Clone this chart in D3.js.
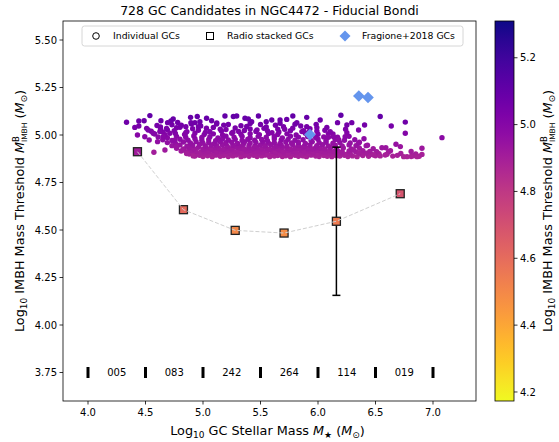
<!DOCTYPE html>
<html><head><meta charset="utf-8">
<script src="https://cdn.jsdelivr.net/npm/d3@7"></script>
<style>body{margin:0;background:#fff} text{font-family:"DejaVu Sans",sans-serif;fill:#000}</style>
</head><body><svg id="c" width="559" height="442"></svg>
<script>
const chartTitle = "728 GC Candidates in NGC4472 - Fiducial Bondi";
const xTicks = [4.0,4.5,5.0,5.5,6.0,6.5,7.0];
const yTicks = [3.75,4.00,4.25,4.50,4.75,5.00,5.25,5.50];
const cbTicks = [4.2,4.4,4.6,4.8,5.0,5.2];
const binEdges = [4.0,4.5,5.0,5.5,6.0,6.5,7.0];
const binCounts = ["005","083","242","264","114","019"];
const binLevel = 3.75;
const stackMass = [4.43,4.83,5.28,5.705,6.16,6.715];
const stackThresh = [4.912,4.607,4.498,4.484,4.546,4.691];
const stackErr = [0,0,0,0,0.39,0];
const fragMass = [5.93,6.355,6.435];
const fragThresh = [5.002,5.205,5.197];
const legendLabels = ["Individual GCs","Radio stacked GCs","Fragione+2018 GCs"];
const gcPoints = [
[4.93,4.889],[4.97,4.893],[5.00,4.887],[5.04,4.891],[5.08,4.886],[5.11,4.894],[5.15,4.888],[5.18,4.892],[5.22,4.887],[5.26,4.890],[5.29,4.895],[5.33,4.886],[5.36,4.891],[5.40,4.888],[5.44,4.893],[5.47,4.887],[5.51,4.890],[5.54,4.894],[5.58,4.886],[5.62,4.889],[5.65,4.892],[5.69,4.887],[5.72,4.891],[5.76,4.886],[5.80,4.893],[5.83,4.888],[5.87,4.890],[5.90,4.886],[5.94,4.894],[5.98,4.889],[6.01,4.887],[6.05,4.892],[6.08,4.888],[6.12,4.886],[6.16,4.891],[6.19,4.889],[6.23,4.893],[6.26,4.887],[6.30,4.890],[6.34,4.886],[6.39,4.892],[6.44,4.888],[6.50,4.891],[6.65,4.889],[6.69,4.893],[6.81,4.887],[6.83,4.891],[6.88,4.888],
[4.88,4.900],[4.91,4.904],[4.95,4.898],[4.99,4.902],[5.02,4.906],[5.06,4.899],[5.10,4.903],[5.13,4.897],[5.17,4.905],[5.20,4.900],[5.24,4.902],[5.28,4.898],[5.31,4.906],[5.35,4.901],[5.38,4.899],[5.42,4.904],[5.46,4.897],[5.49,4.902],[5.53,4.905],[5.56,4.899],[5.60,4.901],[5.64,4.906],[5.67,4.898],[5.71,4.903],[5.74,4.900],[5.78,4.904],[5.82,4.897],[5.85,4.902],[5.89,4.906],[5.92,4.899],[5.96,4.903],[6.00,4.898],[6.03,4.905],[6.07,4.900],[6.10,4.903],[6.14,4.897],[6.18,4.901],[6.21,4.905],[6.25,4.899],[6.28,4.903],[6.37,4.900],[6.42,4.904],[6.47,4.898],[6.53,4.902],[6.60,4.899],[6.72,4.903],[6.85,4.900],
[4.81,4.916],[4.86,4.912],[4.90,4.919],[4.94,4.914],[4.98,4.910],[5.01,4.917],[5.05,4.913],[5.09,4.920],[5.12,4.911],[5.16,4.916],[5.20,4.914],[5.23,4.919],[5.27,4.912],[5.31,4.917],[5.34,4.910],[5.38,4.915],[5.41,4.920],[5.45,4.913],[5.49,4.916],[5.52,4.911],[5.56,4.918],[5.60,4.914],[5.63,4.910],[5.67,4.917],[5.70,4.912],[5.74,4.919],[5.78,4.915],[5.81,4.911],[5.85,4.918],[5.88,4.913],[5.92,4.916],[5.96,4.910],[5.99,4.919],[6.03,4.914],[6.06,4.911],[6.10,4.917],[6.14,4.913],[6.17,4.918],[6.21,4.912],[6.27,4.916],[6.33,4.911],[6.39,4.918],[6.45,4.914],[6.51,4.912],[6.63,4.917],[6.81,4.913],
[4.77,4.930],[4.83,4.926],[4.88,4.933],[4.92,4.928],[4.96,4.935],[5.00,4.925],[5.03,4.931],[5.07,4.927],[5.11,4.934],[5.14,4.929],[5.18,4.925],[5.22,4.932],[5.25,4.928],[5.29,4.935],[5.33,4.930],[5.36,4.926],[5.40,4.933],[5.44,4.929],[5.47,4.934],[5.51,4.927],[5.55,4.931],[5.58,4.925],[5.62,4.933],[5.65,4.928],[5.69,4.935],[5.73,4.930],[5.76,4.926],[5.80,4.932],[5.84,4.928],[5.87,4.934],[5.91,4.929],[5.95,4.926],[5.98,4.933],[6.02,4.930],[6.06,4.927],[6.11,4.934],[6.16,4.929],[6.22,4.932],[6.29,4.927],[6.36,4.931],[6.48,4.928],[6.59,4.933],
[4.73,4.944],[4.80,4.948],[4.86,4.941],[4.91,4.946],[4.97,4.950],[5.02,4.942],[5.07,4.947],[5.12,4.944],[5.17,4.949],[5.21,4.941],[5.26,4.946],[5.31,4.943],[5.35,4.950],[5.40,4.945],[5.45,4.941],[5.50,4.948],[5.54,4.944],[5.59,4.949],[5.64,4.942],[5.68,4.946],[5.73,4.943],[5.78,4.950],[5.83,4.945],[5.88,4.941],[5.93,4.947],[5.99,4.944],[6.04,4.949],[6.09,4.942],[6.15,4.946],[6.21,4.943],[6.27,4.948],[6.33,4.944],[6.43,4.946],
[4.69,4.960],[4.76,4.956],[4.83,4.963],[4.89,4.958],[4.94,4.965],[5.00,4.957],[5.05,4.961],[5.10,4.955],[5.15,4.964],[5.20,4.959],[5.25,4.962],[5.30,4.956],[5.36,4.963],[5.41,4.958],[5.46,4.961],[5.52,4.965],[5.57,4.957],[5.62,4.960],[5.67,4.956],[5.72,4.963],[5.77,4.958],[5.83,4.961],[5.89,4.955],[5.95,4.964],[6.01,4.959],[6.07,4.962],[6.13,4.957],[6.19,4.960],[6.28,4.958],[6.36,4.962],
[4.65,4.975],[4.73,4.971],[4.80,4.978],[4.87,4.973],[4.93,4.980],[4.99,4.972],[5.05,4.976],[5.11,4.970],[5.17,4.979],[5.22,4.974],[5.28,4.977],[5.34,4.971],[5.39,4.978],[5.45,4.973],[5.51,4.976],[5.56,4.970],[5.62,4.979],[5.68,4.974],[5.74,4.977],[5.80,4.972],[5.87,4.975],[5.94,4.971],[6.00,4.978],[6.07,4.973],[6.15,4.976],[6.23,4.972],[6.32,4.975],
[4.61,4.990],[4.69,4.986],[4.77,4.993],[4.85,4.988],[4.92,4.995],[4.99,4.987],[5.06,4.991],[5.13,4.985],[5.20,4.994],[5.27,4.989],[5.34,4.992],[5.41,4.986],[5.48,4.993],[5.55,4.988],[5.62,4.991],[5.69,4.985],[5.76,4.994],[5.83,4.989],[5.91,4.992],[5.98,4.987],[6.05,4.990],[6.17,4.988],[6.27,4.993],
[4.58,5.005],[4.67,5.001],[4.76,5.008],[4.84,5.003],[4.93,5.010],[5.01,5.002],[5.09,5.006],[5.17,5.000],[5.25,5.009],[5.33,5.004],[5.41,5.007],[5.49,5.001],[5.57,5.008],[5.65,5.003],[5.73,5.006],[5.81,5.000],[5.89,5.009],[6.00,5.004],[6.13,5.006],
[4.55,5.020],[4.65,5.016],[4.75,5.023],[4.86,5.018],[4.96,5.025],[5.06,5.017],[5.16,5.021],[5.26,5.015],[5.36,5.024],[5.46,5.019],[5.56,5.022],[5.66,5.016],[5.76,5.023],[5.86,5.018],[5.99,5.021],
[4.51,5.035],[4.63,5.031],[4.77,5.038],[4.91,5.033],[5.03,5.036],[5.15,5.030],[5.28,5.037],[5.41,5.032],[5.53,5.035],[5.65,5.031],[5.78,5.036],[5.93,5.033],
[4.60,5.050],[4.73,5.054],[4.98,5.048],[5.18,5.052],[5.33,5.049],[5.50,5.055],[5.63,5.051],[5.85,5.047],
[4.63,5.043],[4.69,5.027],[4.80,5.041],[4.85,5.012],[4.96,5.044],[5.02,5.013],[5.09,5.040],[5.20,5.029],[5.22,5.055],[5.31,5.019],[5.38,5.045],[5.47,5.027],[5.55,5.042],[5.60,5.012],[5.70,5.044],[5.71,5.030],[5.80,5.057],[5.92,5.015],[5.99,5.039],[6.06,5.025],[4.90,5.058],[5.12,5.063],[5.41,5.061],[5.67,5.062],[4.78,5.066],[5.55,5.070],[6.09,5.006],[6.18,4.975],[6.24,5.030],[6.40,4.980],
[4.335,5.067],[4.442,5.074],[4.488,5.075],[4.538,5.102],[4.407,5.040],[4.442,5.047],[4.430,5.000],[4.634,5.075],[4.692,5.065],[4.721,5.074],[4.741,5.084],[4.892,5.093],[4.950,5.097],[5.031,5.088],[5.075,5.075],[5.191,5.100],[5.264,5.097],[5.293,5.100],[5.365,5.088],[5.482,5.100],[5.598,5.079],[5.670,5.079],[5.781,5.100],[5.902,5.093],[6.019,5.079],[6.199,5.104],[6.170,5.065],[6.294,5.065],[6.405,5.053],[6.541,5.097],[6.637,5.047],[6.759,5.068],[6.759,5.009],[7.078,4.986],[5.984,5.056],[6.077,5.040],[6.251,5.053],[6.353,5.026],[5.816,5.065],[5.728,5.082],[5.423,5.070],[5.394,5.084],[5.118,5.058],[4.973,5.070],[4.930,5.065],[4.811,5.051],[4.851,5.044],[4.895,5.065],
[6.678,4.951],[6.716,4.939],[6.904,4.930],[6.904,4.898],[6.861,4.886],[6.774,4.886],[6.745,4.886],[6.556,4.933],[6.483,4.895],[6.419,4.944],[6.353,4.956],[6.358,4.907],[6.309,4.921],[6.614,4.912],[6.541,4.890],[6.585,4.895],[6.135,4.991],[6.106,5.018],[6.251,5.012],[6.236,4.991],[6.091,4.988],[5.902,5.044],[5.874,5.023],
[4.573,4.909],[4.669,4.921],[4.532,4.974],[4.605,4.965],[4.567,5.009],[4.523,5.026],[4.494,4.991],[4.625,5.018],[4.654,4.991],[4.683,5.035],[4.712,5.009],[4.756,4.974],[4.770,4.939],[4.828,4.921],[4.857,4.903],[4.915,4.890]
];

const svg = d3.select("#c");
const L = 63, R = 476, T = 21, B = 401;
const x = d3.scaleLinear().domain([3.7826, 7.3739]).range([L, R]);
const y = d3.scaleLinear().domain([3.6, 5.6]).range([B, T]);
const cbMin = 4.173, cbMax = 5.31;
const norm = d3.scaleLinear().domain([cbMin, cbMax]).range([1, 0]);
const col = v => d3.interpolatePlasma(norm(v));

// title
svg.append("text").attr("x", (L+R)/2).attr("y", 15).attr("text-anchor","middle")
  .attr("font-size", 12.5).text(chartTitle);

const g = svg.append("g");
svg.append("clipPath").attr("id","pc").append("rect").attr("x",L).attr("y",T).attr("width",R-L).attr("height",B-T);
const pg = g.append("g").attr("clip-path","url(#pc)");

// scatter
pg.selectAll("circle.gc").data(gcPoints).join("circle").attr("class","gc")
  .attr("cx", d => x(d[0])).attr("cy", d => y(d[1])).attr("r", 2.7)
  .attr("fill", d => col(d[1]));

// error bars
const stack = stackMass.map((m,i) => ({m, t: stackThresh[i], e: stackErr[i]}));
stack.filter(d => d.e > 0).forEach(d => {
  pg.append("line").attr("x1", x(d.m)).attr("x2", x(d.m)).attr("y1", y(d.t + d.e)).attr("y2", y(d.t - d.e))
    .attr("stroke","#000").attr("stroke-width",1.5);
  [d.t + d.e, d.t - d.e].forEach(v => pg.append("line").attr("x1", x(d.m)-4).attr("x2", x(d.m)+4)
    .attr("y1", y(v)).attr("y2", y(v)).attr("stroke","#000").attr("stroke-width",1.5));
});

// squares
pg.selectAll("rect.sq").data(stack).join("rect").attr("class","sq")
  .attr("x", d => x(d.m)-4).attr("y", d => y(d.t)-4).attr("width",8).attr("height",8)
  .attr("fill", d => col(d.t)).attr("stroke","#222").attr("stroke-width",1.3);

// dashed connector
pg.append("path").datum(stack)
  .attr("d", d3.line().x(d => x(d.m)).y(d => y(d.t)))
  .attr("fill","none").attr("stroke","#cfcfcf").attr("stroke-width",1).attr("stroke-dasharray","4,2");

// Fragione diamonds
pg.selectAll("path.fr").data(fragMass.map((m,i)=>[m, fragThresh[i]])).join("path").attr("class","fr")
  .attr("d", d => { const cx = x(d[0]), cy = y(d[1]), s = 5.8; return `M${cx},${cy-s}L${cx+s},${cy}L${cx},${cy+s}L${cx-s},${cy}Z`; })
  .attr("fill","#6495ED");

// bin markers and counts
pg.selectAll("rect.bin").data(binEdges).join("rect").attr("class","bin")
  .attr("x", d => x(d)-1.5).attr("y", y(binLevel)-5.5).attr("width",3).attr("height",11).attr("fill","#000");
pg.selectAll("text.cnt").data(binCounts).join("text").attr("class","cnt")
  .attr("x", (d,i) => x((binEdges[i]+binEdges[i+1])/2)).attr("y", y(binLevel)+3.6)
  .attr("text-anchor","middle").attr("font-size",10).text(d => d);

// frame
g.append("rect").attr("x",L).attr("y",T).attr("width",R-L).attr("height",B-T)
  .attr("fill","none").attr("stroke","#000").attr("stroke-width",0.8);

// x axis
xTicks.forEach(t => {
  g.append("line").attr("x1",x(t)).attr("x2",x(t)).attr("y1",B).attr("y2",B+3.5).attr("stroke","#000").attr("stroke-width",0.8);
  g.append("text").attr("x",x(t)).attr("y",B+15).attr("text-anchor","middle").attr("font-size",10).text(t.toFixed(1));
});
// y axis
yTicks.forEach(t => {
  g.append("line").attr("x1",L-3.5).attr("x2",L).attr("y1",y(t)).attr("y2",y(t)).attr("stroke","#000").attr("stroke-width",0.8);
  g.append("text").attr("x",L-6).attr("y",y(t)+3.6).attr("text-anchor","end").attr("font-size",10).text(t.toFixed(2));
});

// x label
const xl = svg.append("text").attr("x",(L+R)/2 - 2).attr("y",435).attr("text-anchor","middle").attr("font-size",12.8);
xl.append("tspan").text("Log");
xl.append("tspan").attr("dy",3).attr("font-size",9).text("10");
xl.append("tspan").attr("dy",-3).text(" GC Stellar Mass ");
xl.append("tspan").attr("font-style","italic").text("M");
xl.append("tspan").attr("dy",3).attr("font-size",9).text("★");
xl.append("tspan").attr("dy",-3).text(" (");
xl.append("tspan").attr("font-style","italic").text("M");
xl.append("tspan").attr("dy",3).attr("font-size",9).text("⊙");
xl.append("tspan").attr("dy",-3).text(")");

function yLabel(tx, ty){
  const t = svg.append("text").attr("transform",`translate(${tx},${ty}) rotate(-90)`).attr("text-anchor","middle").attr("font-size",12.8);
  t.append("tspan").text("Log");
  t.append("tspan").attr("dy",3).attr("font-size",9).text("10");
  t.append("tspan").attr("dy",-3).text(" IMBH Mass Threshold ");
  t.append("tspan").attr("font-style","italic").text("M");
  t.append("tspan").attr("dy",-5).attr("font-size",8.5).text("B");
  t.append("tspan").attr("dx",-6).attr("dy",8).attr("font-size",7.5).text("IMBH");
  t.append("tspan").attr("dy",-3).text(" (");
  t.append("tspan").attr("font-style","italic").text("M");
  t.append("tspan").attr("dy",3).attr("font-size",9).text("⊙");
  t.append("tspan").attr("dy",-3).text(")");
}
yLabel(24, (T+B)/2);

// colorbar
const cbX = 495, cbW = 19;
const cy = d3.scaleLinear().domain([cbMin, cbMax]).range([B, T]);
const grad = svg.append("defs").append("linearGradient").attr("id","cbg").attr("x1",0).attr("y1",1).attr("x2",0).attr("y2",0);
d3.range(0, 1.0001, 0.05).forEach(s => grad.append("stop").attr("offset", s).attr("stop-color", col(cbMin + s*(cbMax-cbMin))));
svg.append("rect").attr("x",cbX).attr("y",T).attr("width",cbW).attr("height",B-T).attr("fill","url(#cbg)")
  .attr("stroke","#000").attr("stroke-width",0.8);
cbTicks.forEach(t => {
  svg.append("line").attr("x1",cbX+cbW).attr("x2",cbX+cbW+3.5).attr("y1",cy(t)).attr("y2",cy(t)).attr("stroke","#000").attr("stroke-width",0.8);
  svg.append("text").attr("x",cbX+cbW+6).attr("y",cy(t)+3.6).attr("font-size",10).text(t.toFixed(1));
});
yLabel(552, (T+B)/2);

// legend
const lg = svg.append("g");
lg.append("rect").attr("x",82).attr("y",26).attr("width",381).attr("height",20).attr("rx",2.5)
  .attr("fill","#fff").attr("fill-opacity",0.8).attr("stroke","#ccc").attr("stroke-width",0.8);
lg.append("circle").attr("cx",96).attr("cy",36).attr("r",3.3).attr("fill","none").attr("stroke","#000").attr("stroke-width",1);
lg.append("rect").attr("x",206.5).attr("y",32.5).attr("width",7).attr("height",7).attr("fill","none").attr("stroke","#000").attr("stroke-width",1);
lg.append("path").attr("d","M345,30.5L350.5,36L345,41.5L339.5,36Z").attr("fill","#6495ED");
[113,227,362].forEach((lx,i) => lg.append("text").attr("x",lx).attr("y",39.3).attr("font-size",9.3).text(legendLabels[i]));
</script></body></html>
